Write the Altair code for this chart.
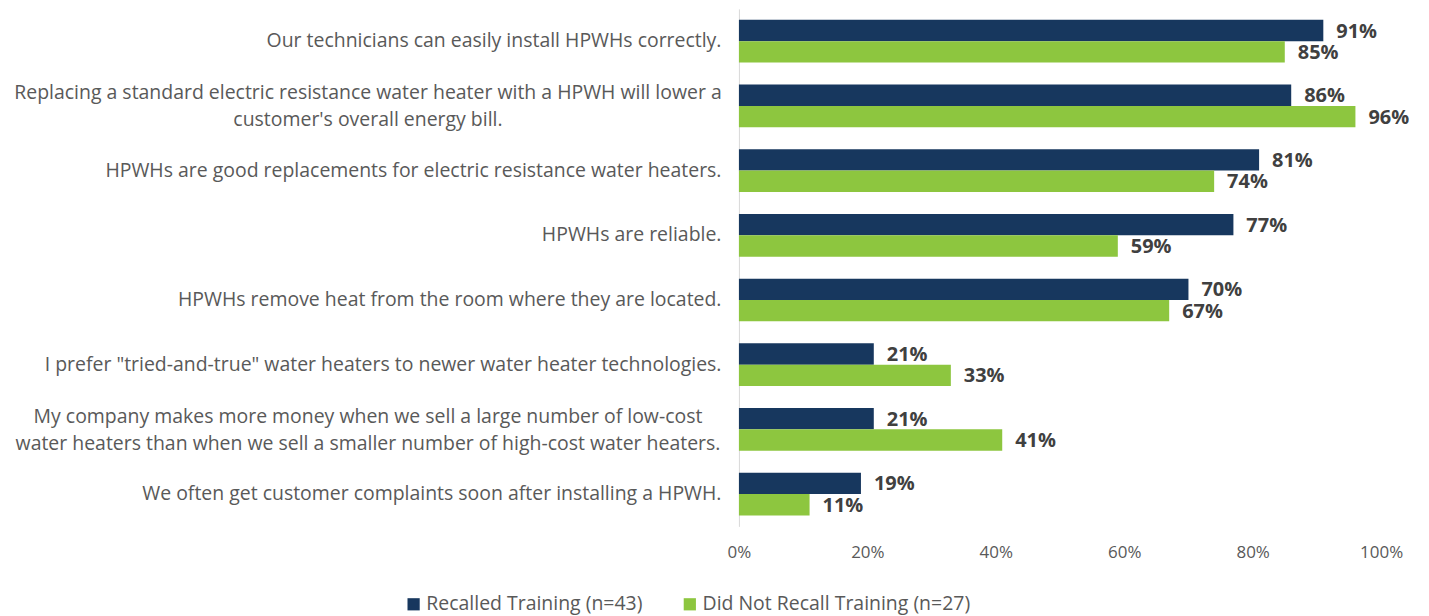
import altair as alt
import pandas as pd

statements = [
    "Our technicians can easily install HPWHs correctly.",
    "Replacing a standard electric resistance water heater with a HPWH will lower a|customer's overall energy bill.",
    "HPWHs are good replacements for electric resistance water heaters.",
    "HPWHs are reliable.",
    "HPWHs remove heat from the room where they are located.",
    "I prefer \"tried-and-true\" water heaters to newer water heater technologies.",
    "My company makes more money when we sell a large number of low-cost|water heaters than when we sell a smaller number of high-cost water heaters.",
    "We often get customer complaints soon after installing a HPWH.",
]
series = ["Recalled Training (n=43)", "Did Not Recall Training (n=27)"]
recalled = [91, 86, 81, 77, 70, 21, 21, 19]
not_recalled = [85, 96, 74, 59, 67, 33, 41, 11]
x_ticks = [0, 20, 40, 60, 80, 100]
colors = ["#17375E", "#8DC63F"]

rows = []
for i, s in enumerate(statements):
    rows.append({"statement": s, "series": series[0], "value": recalled[i]})
    rows.append({"statement": s, "series": series[1], "value": not_recalled[i]})
df = pd.DataFrame(rows)

FONT = "Open Sans"
LBL_COLOR = "#595959"
MULTI = "indexof(datum.value, '|') >= 0"

y_enc = alt.Y(
    "statement:N",
    sort=statements,
    scale=alt.Scale(paddingInner=0.34, paddingOuter=0.17),
    axis=alt.Axis(
        title=None,
        labelExpr="split(datum.label, '|')",
        labelFont=FONT,
        labelFontSize=19.5,
        labelColor=LBL_COLOR,
        labelLimit=0,
        labelAlign={"condition": {"test": MULTI, "value": "center"}, "value": "right"},
        labelPadding={"condition": {"test": MULTI, "value": 372.5}, "value": 18},
        labelOffset={"condition": {"test": MULTI, "value": -12.5}, "value": 0},
        labelLineHeight=27,
        ticks=False,
        domain=True,
        domainColor="#D9D9D9",
        domainWidth=1,
        grid=False,
    ),
)
x_enc = alt.X(
    "value:Q",
    scale=alt.Scale(domain=[0, 100]),
    axis=alt.Axis(
        title=None,
        values=x_ticks,
        labelExpr="datum.value + '%'",
        labelFont=FONT,
        labelFontSize=17,
        labelColor=LBL_COLOR,
        labelPadding=18,
        labelFlush=False,
        ticks=False,
        domain=False,
        grid=False,
    ),
)
yoff = alt.YOffset("series:N", sort=series)

base = alt.Chart(df)
bars = base.mark_bar().encode(
    y=y_enc,
    x=x_enc,
    yOffset=yoff,
    color=alt.Color(
        "series:N",
        sort=series,
        scale=alt.Scale(domain=series, range=colors),
        legend=alt.Legend(
            title=None,
            orient="none",
            legendX=-336,
            legendY=587,
            direction="horizontal",
            symbolType="square",
            symbolSize=150,
            symbolStrokeWidth=0,
            labelFont=FONT,
            labelFontSize=19.5,
            labelColor=LBL_COLOR,
            labelLimit=0,
            columnPadding=37,
            labelOffset=3,
        ),
    ),
)
labels = (
    base.transform_calculate(lbl="datum.value + '%'")
    .mark_text(
        align="left", baseline="middle", dx=13, dy=1, font=FONT, fontSize=20,
        fontWeight="bold", color="#404040"
    )
    .encode(
        y=alt.Y("statement:N", sort=statements),
        x="value:Q",
        yOffset=yoff,
        text="lbl:N",
    )
)

chart = (
    alt.layer(bars, labels)
    .properties(
        width=644,
        height=519,
        autosize=alt.AutoSizeParams(type="none"),
        padding={"left": 733, "top": 0, "right": 40, "bottom": 92},
    )
    .configure_view(stroke=None)
)
chart.save("out.html", embed_options={"renderer": "svg", "actions": False})
